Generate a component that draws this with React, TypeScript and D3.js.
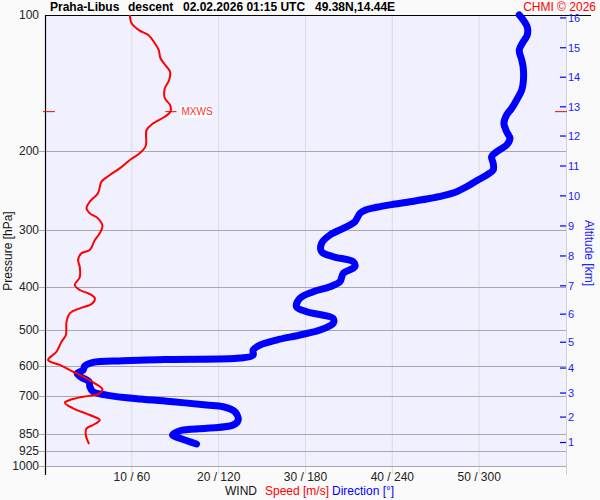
import React from "react";
import * as d3 from "d3";

// ---- data ----
const pressureTicks = [100, 200, 300, 400, 500, 600, 700, 850, 925, 1000];
const windTickSpeeds = [10, 20, 30, 40, 50];
const windTickLabels = ["10 / 60", "20 / 120", "30 / 180", "40 / 240", "50 / 300"];
const altitudeKm = [1, 2, 3, 4, 5, 6, 7, 8, 9, 10, 11, 12, 13, 14, 15, 16];
const altitudePressure = [887, 779, 689, 606.5, 531.5, 460.6, 398.6, 342.2, 293.6, 251.8, 216.2, 185.5, 159.8, 137.4, 118.2, 101.5];

const speedPressure = [100, 104.3, 108.3, 110.7, 115.5, 119.6, 124.7, 130.2, 133.6, 139.4, 145.4, 153.0, 158.3, 163.8, 168.1, 173.9, 179.9, 195.2, 202.6, 209.7, 218.8, 226.4, 234.2, 248.5, 259.4, 268.3, 275.3, 282.4, 293.7, 304.8, 315.5, 331.9, 337.6, 349.3, 361.5, 381.6, 396.9, 407.2, 415.6, 424.9, 437.4, 447.1, 458.6, 478.6, 512.2, 530.1, 558.0, 582.1, 597.0, 618.0, 633.9, 655.6, 676.0, 692.5, 702.0, 714.0, 723.9, 744.9, 770.8, 790.7, 811.2, 825.0, 853.7, 893.7];
const speedValues = [9.77, 9.97, 10.9, 11.9, 12.65, 13.1, 13.3, 14.0, 14.4, 14.3, 13.8, 13.8, 14.4, 14.45, 13.8, 12.45, 11.7, 11.6, 10.9, 9.77, 8.6, 7.47, 6.5, 6.1, 5.16, 4.78, 5.16, 6.1, 6.62, 6.3, 5.74, 5.16, 4.2, 3.81, 4.0, 4.0, 3.43, 4.0, 5.16, 5.74, 5.36, 4.0, 2.86, 2.48, 2.4, 1.9, 1.32, 0.36, 1.7, 3.24, 4.39, 5.74, 6.62, 6.1, 4.39, 2.86, 2.28, 3.24, 5.16, 6.31, 5.54, 4.78, 4.7, 5.08];

const dirPressure = [100, 102.6, 106.2, 110.8, 114.6, 119.6, 125.8, 131.3, 140.6, 146.7, 154.3, 161.0, 166.6, 173.9, 181.5, 187.7, 194.2, 201.0, 206.2, 213.3, 220.7, 226.4, 233.0, 240.3, 246.5, 251.6, 255.9, 259.4, 262.9, 266.9, 270.5, 275.3, 287.3, 297.2, 307.5, 320.8, 334.8, 343.5, 352.4, 361.5, 373.9, 390.3, 400.4, 410.8, 424.9, 443.5, 455.0, 470.6, 482.7, 499.5, 512.4, 525.6, 539.3, 553.4, 567.6, 576.4, 580.3, 584.4, 589.3, 600.4, 612.7, 623.2, 636.0, 650.5, 667.3, 684.5, 696.2, 710.5, 720.4, 732.6, 739.0, 758.2, 790.7, 811.2, 825.0, 835.2, 853.7, 868.2, 893.7];
const dirValues = [327.7, 330.5, 333.2, 333.2, 330.5, 327.7, 329.4, 330.5, 330.5, 329.4, 325.9, 322.5, 319.0, 317.1, 319.0, 321.3, 319.0, 312.1, 308.6, 309.7, 309.7, 305.2, 298.3, 291.3, 284.4, 275.2, 263.7, 252.2, 240.6, 229.1, 221.5, 217.6, 214.1, 206.1, 196.9, 191.1, 191.1, 199.1, 213.0, 214.1, 206.1, 203.8, 196.9, 185.3, 176.1, 173.8, 180.8, 199.1, 199.1, 190.0, 176.1, 160.0, 148.5, 143.8, 143.8, 134.6, 88.5, 54.0, 33.2, 27.5, 26.3, 22.2, 25.2, 30.5, 31.0, 33.2, 42.5, 65.5, 88.5, 111.6, 123.1, 131.2, 133.5, 130.0, 111.6, 93.2, 88.1, 93.2, 104.7];

const maxWindPressure = 163.8;
const maxWindSpeed = 14.45;
const maxWindLabel = "MXWS";

// ---- layout ----
const W = 600, H = 500;
const L = 45, R = 566, T = 15, B = 466;

export default function App() {
  const xSpeed = d3.scaleLinear().domain([0, 60]).range([L, R]);
  const xDir = d3.scaleLinear().domain([0, 360]).range([L, R]);
  const y = d3.scaleLog().domain([100, 1000]).range([T, B]);

  const speedLine = d3.line<number>()
    .x((_, i) => xSpeed(speedValues[i]))
    .y((p) => y(p))
    .curve(d3.curveCatmullRom.alpha(0.5));
  const dirLine = d3.line<number>()
    .x((_, i) => xDir(dirValues[i]))
    .y((p) => y(p))
    .curve(d3.curveCatmullRom.alpha(0.5));

  const font = "'Liberation Sans', Arial, sans-serif";
  const mx = xSpeed(maxWindSpeed);
  const my = y(maxWindPressure);

  return (
    <svg width={W} height={H} style={{ position: "absolute", left: 0, top: 0, display: "block" }} fontFamily={font}>
      <rect x={0} y={0} width={W} height={H} fill="#fafafa" />
      <rect x={L} y={T} width={R - L} height={B - T} fill="#f0f0fe" />
      {/* vertical grid */}
      {windTickSpeeds.map((s) => (
        <line key={s} x1={xSpeed(s)} x2={xSpeed(s)} y1={T} y2={B + 8} stroke="#dcdcdc" strokeWidth={1} />
      ))}
      {/* horizontal grid */}
      {pressureTicks.filter((p) => p !== 100).map((p) => (
        <line key={p} x1={L - 6} x2={R} y1={Math.round(y(p)) + 0.5} y2={Math.round(y(p)) + 0.5} stroke="#a8a8a8" strokeWidth={1.2} />
      ))}
      {/* right axis */}
      <line x1={R + 0.5} x2={R + 0.5} y1={T} y2={B + 9} stroke="#d0d0d8" strokeWidth={1} />
      {/* left axis and top border */}
      <line x1={L + 0.5} x2={L + 0.5} y1={T} y2={B + 9} stroke="#000" strokeWidth={1.2} />
      <line x1={L} x2={591} y1={T + 0.5} y2={T + 0.5} stroke="#000" strokeWidth={1.2} />

      {/* pressure labels */}
      {pressureTicks.map((p) => (
        <text key={p} x={39} y={y(p)} dy="0.35em" textAnchor="end" fontSize={12} fill="#222">{p}</text>
      ))}
      <text transform={`translate(12,251) rotate(-90)`} textAnchor="middle" fontSize={12} fill="#111">Pressure [hPa]</text>

      {/* altitude axis */}
      {altitudeKm.map((k, i) => (
        <g key={k}>
          <line x1={560} x2={566} y1={y(altitudePressure[i])} y2={y(altitudePressure[i])} stroke="#0000ff" strokeWidth={1.2} />
          <text x={568} y={y(altitudePressure[i])} dy="0.35em" fontSize={11} fill="#2020ff">{k}</text>
        </g>
      ))}
      <text transform={`translate(585,253) rotate(90)`} textAnchor="middle" fontSize={12} fill="#2020ff">Altitude [km]</text>

      {/* wind tick labels */}
      {windTickSpeeds.map((s, i) => (
        <text key={s} x={xSpeed(s)} y={481} textAnchor="middle" fontSize={12} fill="#222">{windTickLabels[i]}</text>
      ))}
      <text x={225} y={495} fontSize={12} fill="#111">WIND</text>
      <text x={265} y={495} fontSize={12} fill="#ff0000">Speed [m/s]</text>
      <text x={332} y={495} fontSize={12} fill="#0000ff">Direction [°]</text>

      {/* curves */}
      <path d={dirLine(dirPressure) || ""} fill="none" stroke="#0000ff" strokeWidth={7} strokeLinecap="round" strokeLinejoin="round" />
      <path d={speedLine(speedPressure) || ""} fill="none" stroke="#ff0000" strokeWidth={2} strokeLinejoin="round" />

      {/* max wind markers */}
      <line x1={43} x2={55} y1={my} y2={my} stroke="#ff0000" strokeWidth={1} />
      <line x1={555} x2={567} y1={my} y2={my} stroke="#ff0000" strokeWidth={1} />
      <line x1={mx - 5} x2={mx + 6} y1={my} y2={my} stroke="#ff0000" strokeWidth={1} />
      <rect x={mx + 10} y={my - 6} width={31} height={12} fill="#ffffff" />
      <text x={mx + 11} y={my} dy="0.35em" fontSize={10} fill="#ff3030">{maxWindLabel}</text>

      {/* title */}
      <text y={11} fontSize={12} fontWeight="bold" fill="#000">
        <tspan x={50}>Praha-Libus</tspan>
        <tspan x={128}>descent</tspan>
        <tspan x={183}>02.02.2026 01:15 UTC</tspan>
        <tspan x={315}>49.38N,14.44E</tspan>
      </text>
      <text x={596} y={11} textAnchor="end" fontSize={12} fill="#ff0000">CHMI © 2026</text>
    </svg>
  );
}
